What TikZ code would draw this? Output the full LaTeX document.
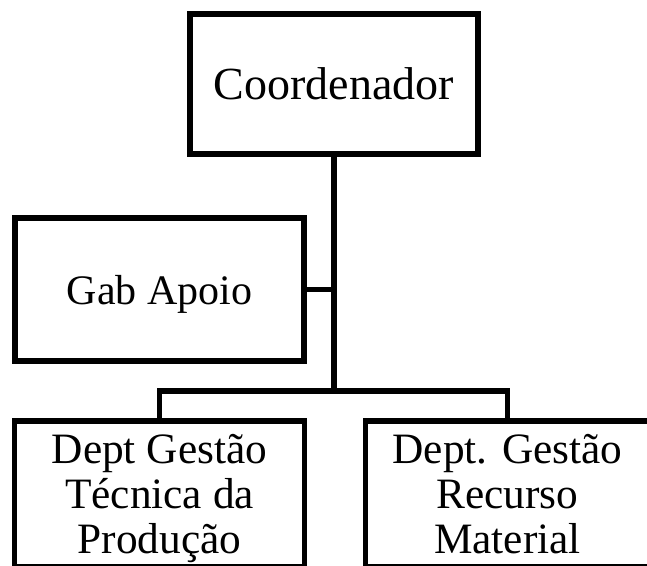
\documentclass[tikz,border=0pt]{standalone}
\usepackage{fontspec}
\setmainfont{Liberation Serif}
\usetikzlibrary{positioning}
\tikzset{
    % one unit = one pixel of the chart
    orgbox/.style={draw=black, line width=4.1pt, fill=white, inner sep=0pt,
        align=center, font=\fontsize{31.5}{33.75}\selectfont},
    deptbox/.style={orgbox, font=\fontsize{32.5}{33.75}\selectfont},
    orgline/.style={line width=4.1pt, draw=black}
}
% strut for the first line of the department boxes
\newcommand{\toprow}{\rule{0pt}{31.5pt}}

\begin{document}
\begin{tikzpicture}[x=0.75pt, y=-0.75pt]
        \useasboundingbox (0,0) rectangle (647,566);
        \clip (0,0) rectangle (647,566);
  % Top of the chart
  \node[orgbox, font=\fontsize{34.5}{36}\selectfont, minimum width=216pt, minimum height=105pt] (coord) at (334,84) {Coordenador};

  % Support office on the side
  \node[orgbox, text depth=0pt, minimum width=216.75pt, minimum height=107.25pt] (gab) at (159.5,289.5) {Gab Apoio};

  % Departments (cut by the page edge)
  \node[deptbox, minimum width=217.5pt, minimum height=109.5pt] (dtec) at (159.5,494) {\toprow Dept Gestão\\Técnica da\\Produção\strut};
  \node[deptbox, minimum width=213pt, minimum height=109.5pt] (dmat) at (507.5,494) {\toprow Dept. Gestão\\Recurso\\Material\strut};

  % Connectors
  \coordinate (fork) at (334,391);
  \draw[orgline] (coord.south) -- (fork);
  \draw[orgline] (gab.east) -- (gab.east -| coord.south);
  \draw[orgline, line join=miter] (dtec.north) |- (fork) -| (dmat.north);

\end{tikzpicture}
\end{document}
